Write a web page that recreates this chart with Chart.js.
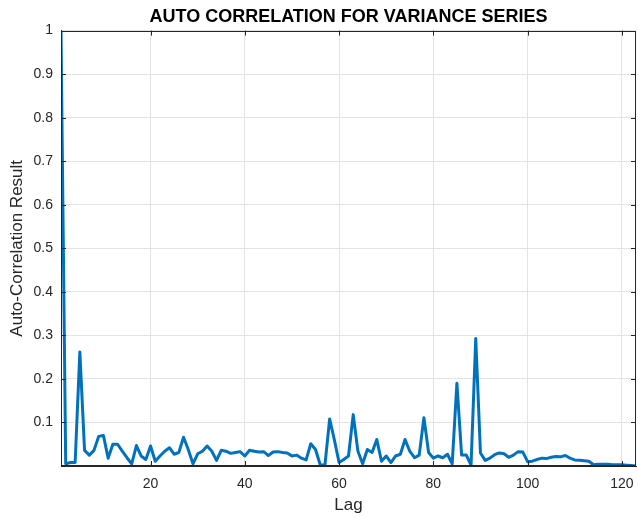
<!DOCTYPE html>
<html>
<head>
<meta charset="utf-8">
<title>Auto Correlation for Variance Series</title>
<script src="https://cdn.jsdelivr.net/npm/chart.js@4.4.1/dist/chart.umd.min.js"></script>
<style>
    html, body { margin: 0; padding: 0; background: #ffffff; }
    #wrap { width: 638px; height: 518px; position: relative; }
</style>
</head>
<body>
<div id="wrap"><canvas id="acfChart"></canvas></div>
<script>
// Data
const lags = Array.from({ length: 123 }, (_, i) => i + 1);
const acfValues = [
    1.000, 0.005, 0.008, 0.008, 0.262, 0.036, 0.025, 0.036, 0.068, 0.070,
    0.018, 0.050, 0.050, 0.034, 0.019, 0.005, 0.047, 0.023, 0.015, 0.046,
    0.011, 0.023, 0.034, 0.042, 0.027, 0.031, 0.066, 0.038, 0.005, 0.028,
    0.034, 0.046, 0.034, 0.013, 0.036, 0.034, 0.029, 0.031, 0.033, 0.023,
    0.036, 0.034, 0.032, 0.033, 0.024, 0.032, 0.033, 0.031, 0.030, 0.023,
    0.025, 0.018, 0.014, 0.051, 0.038, 0.003, 0.002, 0.108, 0.060, 0.008,
    0.015, 0.023, 0.118, 0.034, 0.005, 0.038, 0.031, 0.061, 0.011, 0.023,
    0.008, 0.023, 0.027, 0.061, 0.034, 0.019, 0.025, 0.111, 0.031, 0.018,
    0.023, 0.019, 0.027, 0.005, 0.190, 0.025, 0.025, 0.002, 0.293, 0.030,
    0.013, 0.018, 0.026, 0.030, 0.028, 0.020, 0.025, 0.033, 0.032, 0.010,
    0.011, 0.015, 0.018, 0.017, 0.020, 0.022, 0.021, 0.024, 0.018, 0.014,
    0.013, 0.012, 0.011, 0.003, 0.004, 0.004, 0.004, 0.003, 0.003, 0.003,
    0.002, 0.001, 0.000
];
const xTicks = [20, 40, 60, 80, 100, 120];
const yTicks = [0.1, 0.2, 0.3, 0.4, 0.5, 0.6, 0.7, 0.8, 0.9, 1];

const FONT = 'Liberation Sans, Arial, Helvetica, sans-serif';
const AXIS_COLOR = '#262626';
const GRID_COLOR = '#e3e3e3';

// MATLAB-style box: frame on all sides with inward tick marks
const boxPlugin = {
    id: 'boxPlugin',
    afterDatasetsDraw(chart) {
        const { ctx, chartArea: a, scales } = chart;
        const len = 5;
        ctx.save();
        ctx.strokeStyle = AXIS_COLOR;
        ctx.lineWidth = 1;
        ctx.beginPath();
        xTicks.forEach(v => {
            const px = Math.round(scales.x.getPixelForValue(v)) + 0.5;
            ctx.moveTo(px, a.bottom); ctx.lineTo(px, a.bottom - len);
            ctx.moveTo(px, a.top); ctx.lineTo(px, a.top + len);
        });
        yTicks.forEach(v => {
            const py = Math.round(scales.y.getPixelForValue(v)) + 0.5;
            ctx.moveTo(a.left, py); ctx.lineTo(a.left + len, py);
            ctx.moveTo(a.right, py); ctx.lineTo(a.right - len, py);
        });
        ctx.stroke();
        ctx.strokeRect(Math.round(a.left) + 0.5, Math.round(a.top) + 0.5,
            Math.round(a.right - a.left) - 1, Math.round(a.bottom - a.top) - 1);
        ctx.restore();
    }
};

const ctx = document.getElementById('acfChart').getContext('2d');

new Chart(ctx, {
    type: 'line',
    data: {
        datasets: [{
            label: 'ACF',
            data: lags.map((lag, i) => ({ x: lag, y: acfValues[i] })),
            borderColor: '#0072BD',
            borderWidth: 3,
            borderJoinStyle: 'round',
            pointRadius: 0,
            tension: 0,
            fill: false
        }]
    },
    options: {
        responsive: true,
        maintainAspectRatio: false,
        animation: false,
        layout: { padding: { left: 0, right: 2, top: 0, bottom: 0 } },
        plugins: {
            legend: { display: false },
            tooltip: { enabled: false },
            title: {
                display: true,
                fullSize: false,
                text: 'AUTO CORRELATION FOR VARIANCE SERIES',
                color: '#000000',
                font: { family: FONT, size: 18, weight: 'bold' },
                padding: { top: 6, bottom: 3 }
            }
        },
        scales: {
            x: {
                type: 'linear',
                min: 1,
                max: 123,
                afterBuildTicks: scale => { scale.ticks = xTicks.map(v => ({ value: v })); },
                afterFit: scale => {
                    scale.height = 52;
                    scale.paddingLeft = 0;
                    scale.paddingRight = 0;
                },
                grid: { color: GRID_COLOR, drawTicks: false },
                border: { color: AXIS_COLOR },
                ticks: {
                    color: AXIS_COLOR,
                    padding: 10,
                    maxRotation: 0,
                    font: { family: FONT, size: 14 }
                },
                title: {
                    display: true,
                    text: 'Lag',
                    color: AXIS_COLOR,
                    font: { family: FONT, size: 17 },
                    padding: { top: 0, bottom: 2 }
                }
            },
            y: {
                min: 0,
                max: 1,
                afterBuildTicks: scale => { scale.ticks = yTicks.map(v => ({ value: v })); },
                afterFit: scale => {
                    scale.width = 61;
                    scale.paddingTop = 0;
                    scale.paddingBottom = 0;
                },
                grid: { color: GRID_COLOR, drawTicks: false },
                border: { color: AXIS_COLOR },
                ticks: {
                    color: AXIS_COLOR,
                    padding: 8,
                    font: { family: FONT, size: 14 },
                    callback: value => String(Math.round(value * 10) / 10)
                },
                title: {
                    display: true,
                    text: 'Auto-Correlation Result',
                    color: AXIS_COLOR,
                    font: { family: FONT, size: 17 },
                    padding: { top: 7, bottom: 0 }
                }
            }
        }
    },
    plugins: [boxPlugin]
});
</script>
</body>
</html>
